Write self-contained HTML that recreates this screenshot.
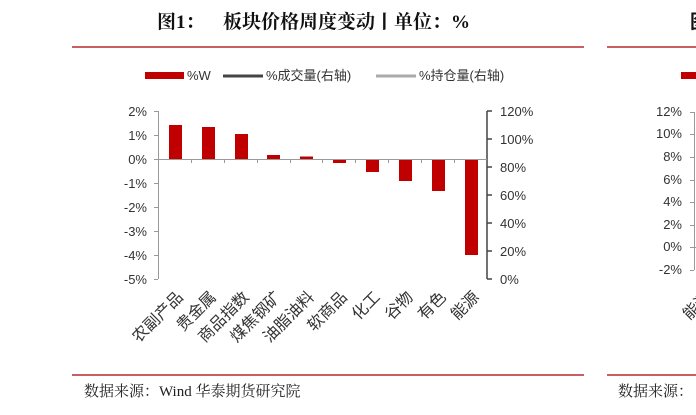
<!DOCTYPE html>
<html><head><meta charset="utf-8"><style>
body{margin:0;background:#fff;width:696px;height:410px;overflow:hidden}
text{font-family:"Liberation Sans","Noto Sans CJK SC",sans-serif;fill:#333}
</style></head><body>
<svg width="696" height="410" xmlns="http://www.w3.org/2000/svg">
<text x="157" y="28" font-size="19" font-weight="bold" style="font-family:'Liberation Serif','Noto Serif CJK SC',serif;fill:#111">图1：</text>
<text x="223" y="28" font-size="19" font-weight="bold" style="font-family:'Liberation Serif','Noto Serif CJK SC',serif;fill:#111">板块价格周度变动丨单位：%</text>
<line x1="72" y1="47" x2="584" y2="47" stroke="#c96060" stroke-width="2"/>
<line x1="607" y1="47" x2="696" y2="47" stroke="#c96060" stroke-width="2"/>
<line x1="72" y1="375" x2="584" y2="375" stroke="#c96060" stroke-width="2"/>
<line x1="607" y1="375" x2="696" y2="375" stroke="#c96060" stroke-width="2"/>
<text x="84" y="396" font-size="15" style="font-family:'Liberation Serif','Noto Serif CJK SC',serif;fill:#222">数据来源：Wind  华泰期货研究院</text>
<text x="618" y="396" font-size="15" style="font-family:'Liberation Serif','Noto Serif CJK SC',serif;fill:#222">数据来源：</text>
<rect x="145" y="72" width="39" height="7" fill="#c00000"/>
<text x="187" y="80" font-size="13">%W</text>
<line x1="223" y1="76" x2="263" y2="76" stroke="#444" stroke-width="3"/>
<text x="266" y="80" font-size="13">%成交量(右轴)</text>
<line x1="376" y1="76" x2="416" y2="76" stroke="#aaa" stroke-width="3"/>
<text x="419" y="80" font-size="13">%持仓量(右轴)</text>
<rect x="681" y="72" width="15" height="7" fill="#c00000"/>
<g stroke="#999" stroke-width="1">
<line x1="158.5" y1="111" x2="158.5" y2="279"/>
<line x1="154" y1="111.5" x2="158" y2="111.5"/><line x1="154" y1="135.5" x2="158" y2="135.5"/><line x1="154" y1="159.5" x2="158" y2="159.5"/><line x1="154" y1="183.5" x2="158" y2="183.5"/><line x1="154" y1="207.5" x2="158" y2="207.5"/><line x1="154" y1="231.5" x2="158" y2="231.5"/><line x1="154" y1="255.5" x2="158" y2="255.5"/><line x1="154" y1="279.5" x2="158" y2="279.5"/>
</g>
<g font-size="13" text-anchor="end">
<text x="147" y="116">2%</text><text x="147" y="140">1%</text><text x="147" y="164">0%</text><text x="147" y="188">-1%</text><text x="147" y="212">-2%</text><text x="147" y="236">-3%</text><text x="147" y="260">-4%</text><text x="147" y="284">-5%</text>
</g>
<g stroke="#444" stroke-width="1.5">
<line x1="487" y1="111" x2="487" y2="279"/>
<line x1="487" y1="111" x2="492" y2="111"/><line x1="487" y1="139" x2="492" y2="139"/><line x1="487" y1="167" x2="492" y2="167"/><line x1="487" y1="195" x2="492" y2="195"/><line x1="487" y1="223" x2="492" y2="223"/><line x1="487" y1="251" x2="492" y2="251"/><line x1="487" y1="279" x2="492" y2="279"/>
</g>
<g font-size="13">
<text x="500" y="116">120%</text><text x="500" y="144">100%</text><text x="500" y="172">80%</text><text x="500" y="200">60%</text><text x="500" y="228">40%</text><text x="500" y="256">20%</text><text x="500" y="284">0%</text>
</g>
<g fill="#c00000">
<rect x="169" y="125" width="13" height="34"/>
<rect x="202" y="127" width="13" height="32"/>
<rect x="235" y="134" width="13" height="25"/>
<rect x="267" y="155" width="13" height="4"/>
<rect x="300" y="156.5" width="13" height="2.5"/>
<rect x="333" y="159" width="13" height="4"/>
<rect x="366" y="159" width="13" height="13"/>
<rect x="399" y="159" width="13" height="22"/>
<rect x="432" y="159" width="13" height="32"/>
<rect x="465" y="159" width="13" height="96"/>
</g>
<g stroke="#999" stroke-width="1">
<line x1="158" y1="159.5" x2="487" y2="159.5"/>
<line x1="191.5" y1="159" x2="191.5" y2="163"/><line x1="224.5" y1="159" x2="224.5" y2="163"/><line x1="257.5" y1="159" x2="257.5" y2="163"/><line x1="290.5" y1="159" x2="290.5" y2="163"/><line x1="322.5" y1="159" x2="322.5" y2="163"/><line x1="355.5" y1="159" x2="355.5" y2="163"/><line x1="388.5" y1="159" x2="388.5" y2="163"/><line x1="421.5" y1="159" x2="421.5" y2="163"/><line x1="454.5" y1="159" x2="454.5" y2="163"/>
</g>
<g font-size="16" text-anchor="end" style="fill:#222">
<text transform="translate(184,298) rotate(-45)">农副产品</text>
<text transform="translate(217,298) rotate(-45)">贵金属</text>
<text transform="translate(250,298) rotate(-45)">商品指数</text>
<text transform="translate(282,298) rotate(-45)">煤焦钢矿</text>
<text transform="translate(315,298) rotate(-45)">油脂油料</text>
<text transform="translate(348,298) rotate(-45)">软商品</text>
<text transform="translate(381,298) rotate(-45)">化工</text>
<text transform="translate(414,298) rotate(-45)">谷物</text>
<text transform="translate(447,298) rotate(-45)">有色</text>
<text transform="translate(480,298) rotate(-45)">能源</text>
</g>
<g font-size="13" text-anchor="end">
<text x="682" y="116">12%</text><text x="682" y="138">10%</text><text x="682" y="161">8%</text><text x="682" y="184">6%</text><text x="682" y="206">4%</text><text x="682" y="229">2%</text><text x="682" y="251">0%</text><text x="682" y="274">-2%</text>
</g>
<g stroke="#999"><line x1="694.5" y1="112" x2="694.5" y2="270"/><line x1="690" y1="112.5" x2="694" y2="112.5"/><line x1="690" y1="134.5" x2="694" y2="134.5"/><line x1="690" y1="157.5" x2="694" y2="157.5"/><line x1="690" y1="180.5" x2="694" y2="180.5"/><line x1="690" y1="202.5" x2="694" y2="202.5"/><line x1="690" y1="225.5" x2="694" y2="225.5"/><line x1="690" y1="247.5" x2="696" y2="247.5"/><line x1="690" y1="270.5" x2="694" y2="270.5"/></g>
<text transform="translate(712,298) rotate(-45)" font-size="16" text-anchor="end">能源</text>
<text x="690" y="28" font-size="19" font-weight="bold" style="fill:#111">图</text>
</svg>
</body></html>
